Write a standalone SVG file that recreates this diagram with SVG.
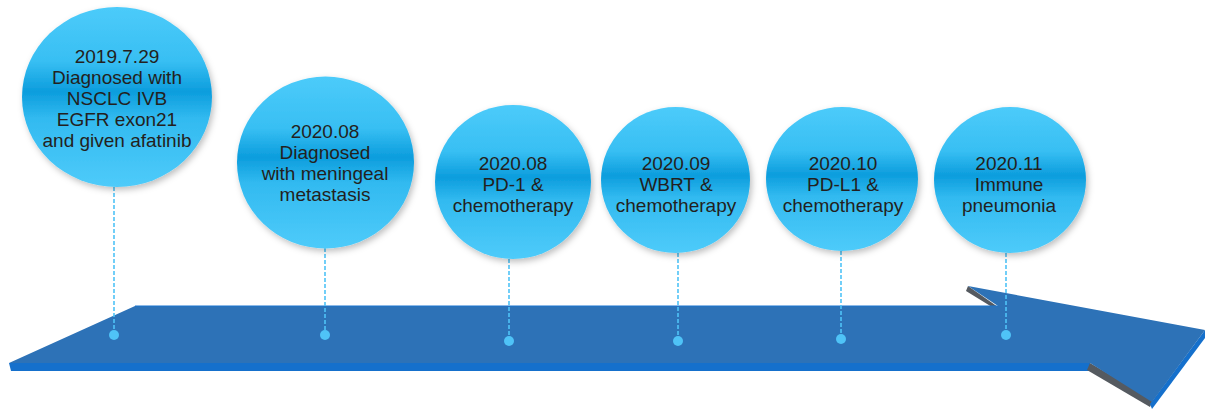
<svg xmlns="http://www.w3.org/2000/svg" width="1205" height="410" viewBox="0 0 1205 410">
<style>
.lbl{font-family:"Liberation Sans",Arial,sans-serif;font-size:19px;fill:#231f20;text-anchor:middle}
.dash{stroke:#4fc3f7;stroke-width:1.6;stroke-dasharray:4 2;fill:none}
.dot{fill:#4fc3f7}
.bubble{fill:url(#g);filter:url(#sh)}
</style>
<defs>
<linearGradient id="g" x1="0" y1="0" x2="0" y2="1">
<stop offset="0" stop-color="#4ccbfa"/>
<stop offset="0.3" stop-color="#38bff3"/>
<stop offset="0.47" stop-color="#0c9ddd"/>
<stop offset="0.62" stop-color="#32baf0"/>
<stop offset="1" stop-color="#4ecbfa"/>
</linearGradient>
<filter id="sh" x="-20%" y="-20%" width="140%" height="140%">
<feDropShadow dx="2" dy="3" stdDeviation="3" flood-color="#000" flood-opacity="0.25"/>
</filter>
</defs>
<g id="arrow">
<path d="M9,363 L1090,363 L1090,371 L11,371 Z" fill="#1570cc"/>
<path d="M1090,363 L1153,400 L1150,407 L1087,370 Z" fill="#555a60"/>
<path d="M968,286 L966,291 L992,307 L998,307 Z" fill="#555a60"/>
<path d="M1205,330 L1208,334 L1152,409 L1150,404 Z" fill="#1570cc"/>
<path d="M9,363 L135,306 L998,306 L968,286 L1205,330 L1152,402 L1090,363 Z" fill="#2d72b7"/>
<path d="M135,306 L998,306" stroke="#1a74d0" stroke-width="1.2"/>
</g>
<g id="connectors">
<line class="dash" x1="114" y1="187" x2="114" y2="335"/>
<line class="dash" x1="325" y1="248" x2="325" y2="335"/>
<line class="dash" x1="509" y1="259" x2="509" y2="341"/>
<line class="dash" x1="678" y1="253" x2="678" y2="341"/>
<line class="dash" x1="841" y1="251" x2="841" y2="339"/>
<line class="dash" x1="1006" y1="253" x2="1006" y2="335"/>
<circle class="dot" cx="114" cy="335" r="5"/>
<circle class="dot" cx="325" cy="335" r="5"/>
<circle class="dot" cx="509" cy="341" r="5"/>
<circle class="dot" cx="678" cy="341" r="5"/>
<circle class="dot" cx="841" cy="339" r="5"/>
<circle class="dot" cx="1006" cy="335" r="5"/>
</g>
<g id="n1">
<ellipse class="bubble" cx="117" cy="97" rx="95" ry="90"/>
<text class="lbl" x="117" y="63">2019.7.29</text>
<text class="lbl" x="117" y="84">Diagnosed with</text>
<text class="lbl" x="117" y="105">NSCLC IVB</text>
<text class="lbl" x="117" y="126">EGFR exon21</text>
<text class="lbl" x="117" y="147">and given afatinib</text>
</g>
<g id="n2">
<ellipse class="bubble" cx="325.5" cy="162.5" rx="88.5" ry="86"/>
<text class="lbl" x="325" y="138">2020.08</text>
<text class="lbl" x="325" y="159">Diagnosed</text>
<text class="lbl" x="325" y="180">with meningeal</text>
<text class="lbl" x="325" y="201">metastasis</text>
</g>
<g id="n3">
<ellipse class="bubble" cx="513" cy="182" rx="78" ry="77"/>
<text class="lbl" x="513" y="170">2020.08</text>
<text class="lbl" x="513" y="191">PD-1 &amp;</text>
<text class="lbl" x="513" y="212">chemotherapy</text>
</g>
<g id="n4">
<ellipse class="bubble" cx="675.5" cy="180" rx="74.5" ry="73"/>
<text class="lbl" x="676" y="170">2020.09</text>
<text class="lbl" x="676" y="191">WBRT &amp;</text>
<text class="lbl" x="676" y="212">chemotherapy</text>
</g>
<g id="n5">
<ellipse class="bubble" cx="842" cy="179" rx="76" ry="72"/>
<text class="lbl" x="843" y="170">2020.10</text>
<text class="lbl" x="843" y="191">PD-L1 &amp;</text>
<text class="lbl" x="843" y="212">chemotherapy</text>
</g>
<g id="n6">
<ellipse class="bubble" cx="1010" cy="180" rx="76" ry="73"/>
<text class="lbl" x="1009" y="170">2020.11</text>
<text class="lbl" x="1009" y="191">Immune</text>
<text class="lbl" x="1009" y="212">pneumonia</text>
</g>
</svg>
